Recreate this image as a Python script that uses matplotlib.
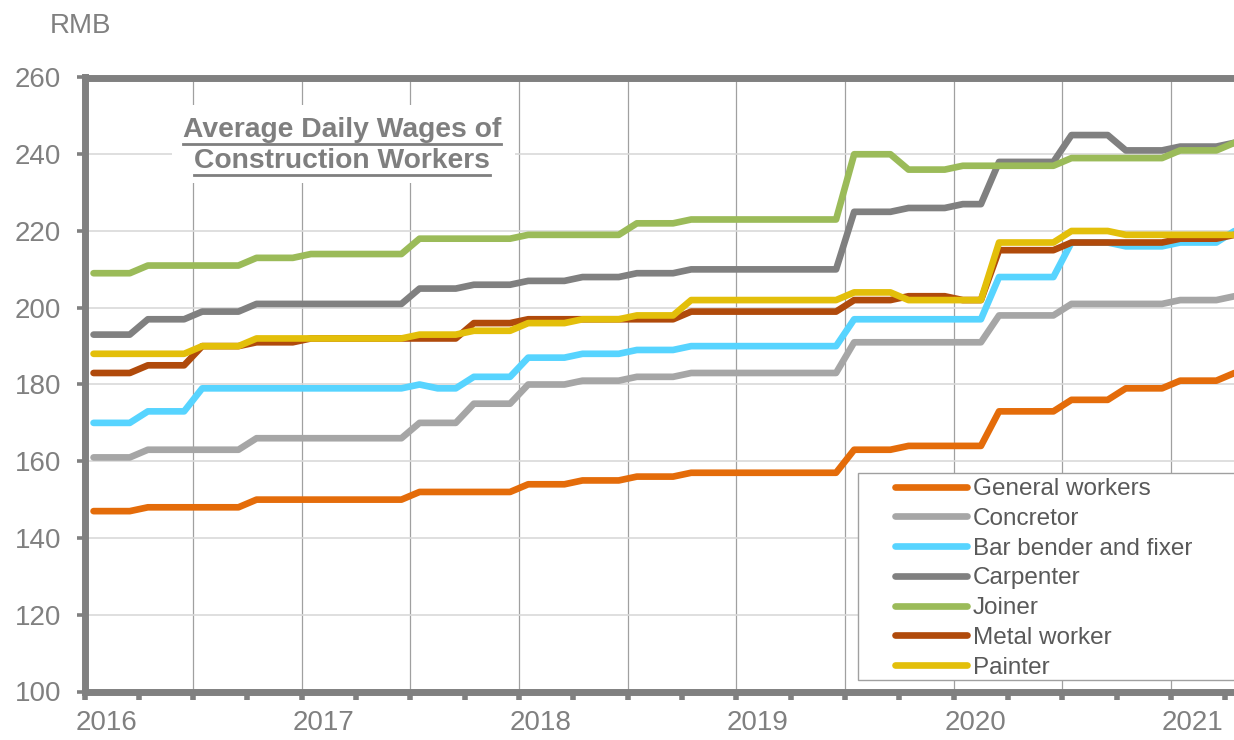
import numpy as np
import matplotlib
matplotlib.use("Agg")
import matplotlib.pyplot as plt
from matplotlib.patches import Rectangle
from matplotlib.lines import Line2D

plt.rcParams['font.family'] = ['Liberation Sans', 'DejaVu Sans']

# ---- data (monthly, Jan 2016 - Apr 2021) ----
years = ['2016', '2017', '2018', '2019', '2020', '2021']

general_workers = [147, 147, 147, 148, 148, 148, 148, 148, 148, 150, 150, 150,
                   150, 150, 150, 150, 150, 150, 152, 152, 152, 152, 152, 152,
                   154, 154, 154, 155, 155, 155, 156, 156, 156, 157, 157, 157,
                   157, 157, 157, 157, 157, 157, 163, 163, 163, 164, 164, 164,
                   164, 164, 173, 173, 173, 173, 176, 176, 176, 179, 179, 179,
                   181, 181, 181, 183]
concretor = [161, 161, 161, 163, 163, 163, 163, 163, 163, 166, 166, 166,
             166, 166, 166, 166, 166, 166, 170, 170, 170, 175, 175, 175,
             180, 180, 180, 181, 181, 181, 182, 182, 182, 183, 183, 183,
             183, 183, 183, 183, 183, 183, 191, 191, 191, 191, 191, 191,
             191, 191, 198, 198, 198, 198, 201, 201, 201, 201, 201, 201,
             202, 202, 202, 203]
bar_bender = [170, 170, 170, 173, 173, 173, 179, 179, 179, 179, 179, 179,
              179, 179, 179, 179, 179, 179, 180, 179, 179, 182, 182, 182,
              187, 187, 187, 188, 188, 188, 189, 189, 189, 190, 190, 190,
              190, 190, 190, 190, 190, 190, 197, 197, 197, 197, 197, 197,
              197, 197, 208, 208, 208, 208, 217, 217, 217, 216, 216, 216,
              217, 217, 217, 220]
carpenter = [193, 193, 193, 197, 197, 197, 199, 199, 199, 201, 201, 201,
             201, 201, 201, 201, 201, 201, 205, 205, 205, 206, 206, 206,
             207, 207, 207, 208, 208, 208, 209, 209, 209, 210, 210, 210,
             210, 210, 210, 210, 210, 210, 225, 225, 225, 226, 226, 226,
             227, 227, 238, 238, 238, 238, 245, 245, 245, 241, 241, 241,
             242, 242, 242, 243]
joiner = [209, 209, 209, 211, 211, 211, 211, 211, 211, 213, 213, 213,
          214, 214, 214, 214, 214, 214, 218, 218, 218, 218, 218, 218,
          219, 219, 219, 219, 219, 219, 222, 222, 222, 223, 223, 223,
          223, 223, 223, 223, 223, 223, 240, 240, 240, 236, 236, 236,
          237, 237, 237, 237, 237, 237, 239, 239, 239, 239, 239, 239,
          241, 241, 241, 243]
metal_worker = [183, 183, 183, 185, 185, 185, 190, 190, 190, 191, 191, 191,
                192, 192, 192, 192, 192, 192, 192, 192, 192, 196, 196, 196,
                197, 197, 197, 197, 197, 197, 197, 197, 197, 199, 199, 199,
                199, 199, 199, 199, 199, 199, 202, 202, 202, 203, 203, 203,
                202, 202, 215, 215, 215, 215, 217, 217, 217, 217, 217, 217,
                218, 218, 218, 219]
painter = [188, 188, 188, 188, 188, 188, 190, 190, 190, 192, 192, 192,
           192, 192, 192, 192, 192, 192, 193, 193, 193, 194, 194, 194,
           196, 196, 196, 197, 197, 197, 198, 198, 198, 202, 202, 202,
           202, 202, 202, 202, 202, 202, 204, 204, 204, 202, 202, 202,
           202, 202, 217, 217, 217, 217, 220, 220, 220, 219, 219, 219,
           219, 219, 219, 219]

series_names = ['General workers', 'Concretor', 'Bar bender and fixer',
                'Carpenter', 'Joiner', 'Metal worker', 'Painter']
series_values = [general_workers, concretor, bar_bender, carpenter,
                 joiner, metal_worker, painter]
series_colors = ['#E46C0A', '#A6A6A6', '#57D4FF', '#808080',
                 '#9BBB59', '#B04A0B', '#E3BF0A']

# ---- figure ----
W, H = 1234, 740
fig = plt.figure(figsize=(W / 100, H / 100), dpi=100)
fig.patch.set_facecolor('white')

ax_left_px, ax_right_px = 84.5, 1240.0
ax_top_px, ax_bot_px = 77.5, 691.5
ax = fig.add_axes([ax_left_px / W, 1 - ax_bot_px / H,
                   (ax_right_px - ax_left_px) / W, (ax_bot_px - ax_top_px) / H])

cat_w = 18.11
n = len(general_workers)
x = np.arange(n)
ax.set_xlim(-0.5, -0.5 + (ax_right_px - ax_left_px) / cat_w)
ax.set_ylim(100, 260)

axis_grey = '#808080'
lw_line = 4.8
for name, vals, col in zip(series_names, series_values, series_colors):
    ax.plot(x, vals, color=col, lw=lw_line, label=name,
            solid_capstyle='round', solid_joinstyle='round', zorder=3)

# grid
ax.set_yticks(np.arange(100, 261, 20))
ax.yaxis.grid(True, color='#D9D9D9', lw=1.2, zorder=0)
ax.set_axisbelow(True)
for k in range(1, 11):
    ax.axvline(-0.5 + 6 * k, color='#A0A0A0', lw=0.9, zorder=0.5)

# x ticks: marks every 3 months (minor), labels once a year (major)
ax.set_xticks(np.arange(-0.5, n, 3), minor=True)
ax.set_xticks([0.69 + 12 * k for k in range(len(years))], labels=years)
ax.tick_params(axis='x', which='major', length=0, pad=13,
               labelsize=20, labelcolor=axis_grey)
ax.tick_params(axis='x', which='minor', length=5.5, width=4,
               color=axis_grey, direction='out')
ax.tick_params(axis='y', which='major', length=6, width=2.6, color=axis_grey,
               pad=11, labelsize=20, labelcolor=axis_grey)

for side in ['left', 'top', 'bottom']:
    ax.spines[side].set_color(axis_grey)
    ax.spines[side].set_linewidth(5)
ax.spines['right'].set_visible(False)

# "RMB" unit label
fig.text(50 / W, 1 - 33 / H, 'RMB', fontsize=20, color=axis_grey,
         ha='left', va='baseline')

# title box (white, masks grid) with underlined title
fig.patches.append(Rectangle((172 / W, 1 - 183 / H), (515 - 172) / W, (183 - 105) / H,
                             transform=fig.transFigure, facecolor='white',
                             edgecolor='none', zorder=1))
title_lines = ['Average Daily Wages of', 'Construction Workers']
baselines = [137, 168]
tcol = '#7F7F7F'
texts = []
for s, b in zip(title_lines, baselines):
    t = fig.text(342 / W, 1 - b / H, s, fontsize=20.3, fontweight='bold',
                 color=tcol, ha='center', va='baseline', zorder=2)
    texts.append(t)
fig.canvas.draw()
r = fig.canvas.get_renderer()
for t, b in zip(texts, baselines):
    bb = t.get_window_extent(renderer=r)
    yy = 1 - (b + 7) / H
    fig.add_artist(Line2D([bb.x0 / W, bb.x1 / W], [yy, yy], transform=fig.transFigure,
                          color=tcol, lw=2.0, zorder=2))

# legend: framed white box + frameless legend
fig.patches.append(Rectangle((858 / W, 1 - 680 / H), (1240 - 858) / W, (680 - 473) / H,
                             transform=fig.transFigure, facecolor='white',
                             edgecolor='#A0A0A0', lw=1.0, zorder=4))
leg = fig.legend(loc='upper left', bbox_to_anchor=(895 / W, 1 - 478 / H),
                 bbox_transform=fig.transFigure, frameon=False, fontsize=17.5,
                 handlelength=2.96, handletextpad=0.25, labelspacing=0.32,
                 borderpad=0, borderaxespad=0)
leg.set_zorder(5)
for txt in leg.get_texts():
    txt.set_color('#595959')
for h in leg.get_lines():
    h.set_linewidth(lw_line)
    h.set_solid_capstyle('round')

fig.savefig('out.png', dpi=100, facecolor='white')
